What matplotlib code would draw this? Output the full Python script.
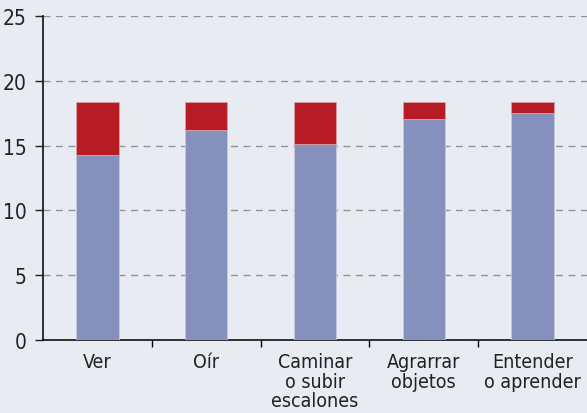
import matplotlib.pyplot as plt
import numpy as np

categories = ["Ver", "Oír", "Caminar\no subir\nescalones", "Agrarrar\nobjetos", "Entender\no aprender"]
base = [14.26, 16.24, 15.09, 17.09, 17.53]
extra = [4.11, 2.13, 3.28, 1.28, 0.84]
yticks = [0, 5, 10, 15, 20, 25]

bg = "#e8ebf1"
plt.rcParams['font.family'] = ['DejaVu Sans']
plt.rcParams['font.stretch'] = 'condensed'

fig = plt.figure(figsize=(5.87, 4.14), dpi=100, facecolor=bg)
ax = fig.add_axes([43/587, 73/414, 1 - 43/587, 324/414], facecolor=bg)

x = np.arange(len(categories))
ax.bar(x, base, width=0.39, color="#8590bd", edgecolor="#c5cae0", linewidth=0.6, zorder=3)
ax.bar(x, extra, bottom=base, width=0.39, color="#b71c24", edgecolor="#d8a0a4", linewidth=0.6, zorder=3)

ax.set_ylim(0, 25)
ax.set_xlim(-0.5, 4.5)
ax.set_yticks(yticks)
ax.yaxis.grid(True, linestyle=(0, (5, 4)), color="#939393", linewidth=1, zorder=1)
ax.tick_params(axis='y', labelsize=15, length=6, width=1, pad=6, colors="#222222")

ax.set_xticks(x)
ax.set_xticklabels(categories, fontsize=14, color="#222222", linespacing=1.02)
ax.tick_params(axis='x', which='major', length=0, pad=9)
ax.set_xticks(x[:-1] + 0.5, minor=True)
ax.tick_params(axis='x', which='minor', length=5, width=1, direction='out')

for s in ['top', 'right']:
    ax.spines[s].set_visible(False)
for s in ['left', 'bottom']:
    ax.spines[s].set_linewidth(1.2)
    ax.spines[s].set_color("#111111")

fig.savefig("out.png", dpi=100, facecolor=bg)
